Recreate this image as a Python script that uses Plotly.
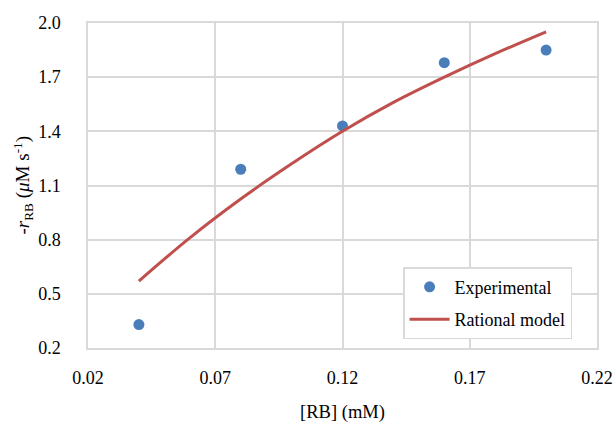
import plotly.graph_objects as go

# Measured rates
conc_exp = [0.04, 0.08, 0.12, 0.16, 0.20]
rate_exp = [0.33, 1.19, 1.43, 1.78, 1.85]

# Rational model curve
conc_model = [0.04, 0.06, 0.08, 0.10, 0.12, 0.14, 0.16, 0.18, 0.20]
rate_model = [0.571, 0.81, 1.025, 1.22, 1.40, 1.56, 1.70, 1.83, 1.951]

x_ticks = [0.02, 0.07, 0.12, 0.17, 0.22]
y_ticks = [0.2, 0.5, 0.8, 1.1, 1.4, 1.7, 2.0]

FONT = "Liberation Serif, Times New Roman, serif"
GRID = "#d9d9d9"

fig = go.Figure()
fig.add_trace(go.Scatter(
    x=conc_exp, y=rate_exp, mode="markers", name="Experimental",
    marker=dict(color="#4a7ebb", size=11), legendgroup="a",
))
fig.add_trace(go.Scatter(
    x=conc_model, y=rate_model, mode="lines", name="Rational model",
    line=dict(color="#c0504d", width=3, shape="spline"), legendgroup="b",
))

fig.update_layout(
    width=614, height=426,
    margin=dict(l=88, r=17, t=23, b=78),
    paper_bgcolor="white", plot_bgcolor="white",
    font=dict(family=FONT, size=18, color="#000000"),
    showlegend=True,
    legend=dict(
        x=0.619, y=0.249, xanchor="left", yanchor="top",
        bgcolor="white", bordercolor=GRID, borderwidth=1.5,
        font=dict(family=FONT, size=18), tracegroupgap=6, itemwidth=40,
    ),
    xaxis=dict(
        range=[0.02, 0.22], tickvals=x_ticks, ticktext=[f"{v:.2f}" for v in x_ticks],
        showgrid=True, gridcolor=GRID, gridwidth=1.5,
        showline=True, linecolor=GRID, linewidth=1.5, mirror=True,
        zeroline=False, ticks="", ticklabelstandoff=13, automargin=False,
        title=dict(text="[RB] (mM)", font=dict(size=18.5), standoff=18),
    ),
    yaxis=dict(
        range=[0.2, 2.0], tickvals=y_ticks, ticktext=[f"{v:.1f}" for v in y_ticks],
        showgrid=True, gridcolor=GRID, gridwidth=1.5,
        showline=True, linecolor=GRID, linewidth=1.5, mirror=True,
        zeroline=False, ticks="", ticklabelstandoff=22, automargin=False,
    ),
    annotations=[dict(
        text="-<i>r</i><sub>RB</sub> (<i>μ</i>M s<sup>-1</sup>)",
        xref="paper", yref="paper", x=(23 - 88) / 509, y=0.5,
        xanchor="center", yanchor="middle", textangle=-90, showarrow=False,
        font=dict(family=FONT, size=19),
    )],
)

fig.write_html("out.html")
